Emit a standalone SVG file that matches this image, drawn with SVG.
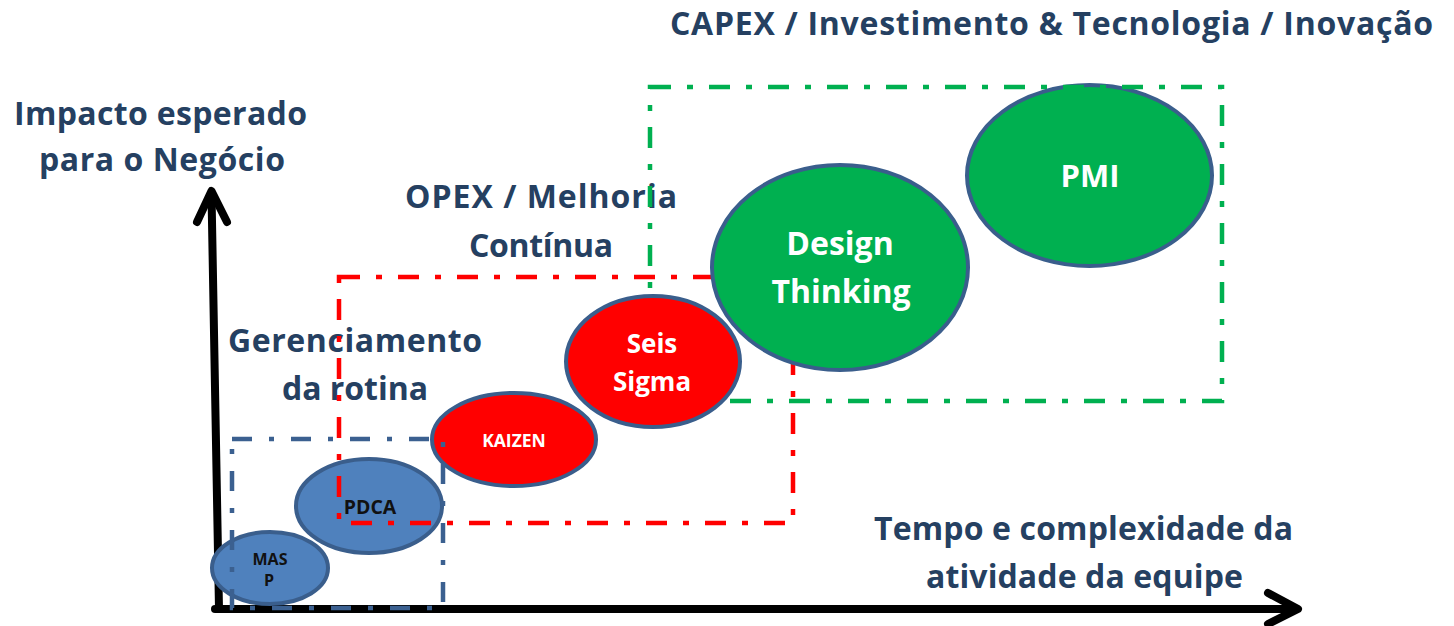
<svg xmlns="http://www.w3.org/2000/svg" width="1454" height="626" viewBox="0 0 1454 626">
<style>
.lbl{font-family:"Open Sans","Liberation Sans",sans-serif;font-weight:700;font-size:32px;fill:#254061}
.in{font-family:"Open Sans","Liberation Sans",sans-serif;font-weight:700;fill:#ffffff;text-anchor:middle}
.dk{fill:#111111}
.el{stroke:#3A5E8C;stroke-width:4}
.blue{fill:#4F81BD}
.red{fill:#FF0000}
.green{fill:#00B050}
.frame{fill:none;stroke-width:4.5;stroke-dasharray:21 16 6 16}
.axis{fill:none;stroke:#000;stroke-width:8;stroke-linecap:round;stroke-linejoin:round}
</style>
<rect width="1454" height="626" fill="#ffffff"/>
<g id="axes">
<path class="axis" d="M219,609 L211.5,194"/>
<path class="axis" d="M197,222 L211.5,191 L227,222"/>
<path class="axis" d="M215,609 L1295,609"/>
<path class="axis" d="M1268,593 L1298,609 L1268,624"/>
</g>
<g id="labels">
<text class="lbl" x="670" y="35" textLength="763">CAPEX / Investimento &amp; Tecnologia / Inovação</text>
<text class="lbl" x="160.5" y="125" text-anchor="middle" textLength="293">Impacto esperado</text>
<text class="lbl" x="162" y="171" text-anchor="middle" textLength="246">para o Negócio</text>
<text class="lbl" x="541" y="208" text-anchor="middle" textLength="272">OPEX / Melhoria</text>
<text class="lbl" x="541" y="257" text-anchor="middle" textLength="144">Contínua</text>
<text class="lbl" x="355" y="352" text-anchor="middle" textLength="254">Gerenciamento</text>
<text class="lbl" x="355" y="400" text-anchor="middle" textLength="146">da rotina</text>
<text class="lbl" x="1083.5" y="539.5" text-anchor="middle" textLength="419">Tempo e complexidade da</text>
<text class="lbl" x="1084.5" y="588" text-anchor="middle" textLength="317">atividade da equipe</text>
</g>
<g id="pmi">
<ellipse class="el green" cx="1089.5" cy="175.5" rx="122.5" ry="90.5"/>
<text class="in" x="1090" y="187" font-size="31">PMI</text>
</g>
<g id="capex-frame">
<rect class="frame" x="650" y="87" width="572" height="314" stroke="#00B050"/>
</g>
<g id="masp">
<ellipse class="el blue" cx="270" cy="568" rx="58" ry="36"/>
<text class="in dk" x="270" y="565" font-size="16">MAS</text>
<text class="in dk" x="269" y="586" font-size="16">P</text>
</g>
<g id="pdca">
<ellipse class="el blue" cx="369" cy="506" rx="73" ry="47"/>
<text class="in dk" x="370" y="514" font-size="19.5">PDCA</text>
</g>
<g id="kaizen">
<ellipse class="el red" cx="514" cy="439.5" rx="82" ry="46.5"/>
<text class="in" x="514" y="447" font-size="17.5">KAIZEN</text>
</g>
<g id="rotina-frame">
<rect class="frame" x="232" y="439" width="211" height="169" stroke="#3B6090" style="stroke-dasharray:20 17 5 17"/>
</g>
<g id="opex-frame">
<rect class="frame" x="339" y="277" width="454" height="246" stroke="#FF0000"/>
</g>
<g id="seis-sigma">
<ellipse class="el red" cx="653" cy="361.5" rx="87" ry="65.5"/>
<text class="in" x="652" y="353" font-size="26">Seis</text>
<text class="in" x="652" y="391" font-size="26">Sigma</text>
</g>
<g id="design-thinking">
<ellipse class="el green" cx="840" cy="267.5" rx="128" ry="102.5"/>
<text class="in" x="840" y="255" font-size="32">Design</text>
<text class="in" x="841" y="303" font-size="32">Thinking</text>
</g>
</svg>
